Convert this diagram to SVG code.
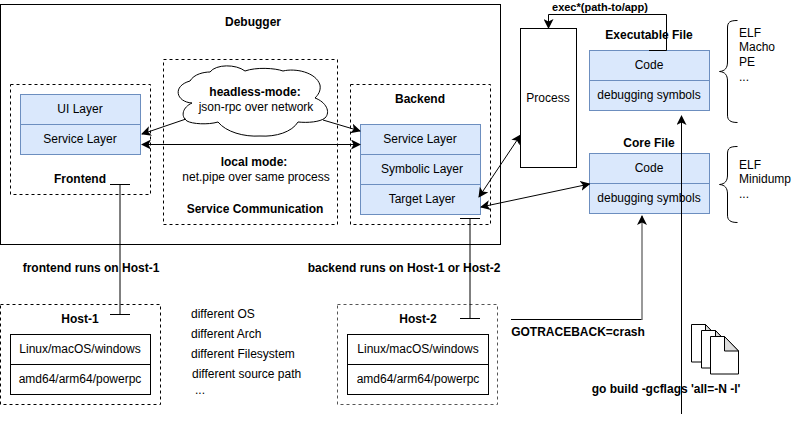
<svg xmlns="http://www.w3.org/2000/svg" width="798" height="424" viewBox="0 0 798 424">
<style>
text{font-family:"Liberation Sans",Arial,sans-serif;font-size:12px;fill:#000;text-anchor:middle}
.b{font-weight:bold}
.l{text-anchor:start}
.blue{fill:#dae8fc;stroke:#6c8ebf;stroke-width:1}
.plain{fill:#fff;stroke:#000;stroke-width:1}
.dash{fill:none;stroke:#000;stroke-width:1;stroke-dasharray:3 3}
.ln{fill:none;stroke:#000;stroke-width:1}
.doc{fill:#fff;stroke:#000;stroke-width:1}
.fold{fill:#ddd;stroke:#000;stroke-width:1}
</style>
<defs>
<marker id="a" viewBox="0 0 10 10" refX="9" refY="5" markerWidth="10" markerHeight="10" orient="auto-start-reverse" markerUnits="userSpaceOnUse"><path d="M0 0L10 5L0 10L2.500 5Z" fill="#000"/></marker>
</defs>
<rect width="798" height="424" fill="#fff"/>
<g id="debugger"><rect class="plain" x="0.500" y="4.500" width="500" height="240"/><text class="b" x="253" y="26">Debugger</text></g>
<g id="frontend"><rect class="dash" x="10.500" y="84.500" width="140" height="110"/>
<rect class="blue" x="20.500" y="94.500" width="120" height="30"/><text x="80" y="113">UI Layer</text>
<rect class="blue" x="20.500" y="124.500" width="120" height="30"/><text x="80" y="143">Service Layer</text>
<text class="b" x="80" y="183">Frontend</text></g>
<g id="service-communication"><rect class="dash" x="163.500" y="59.500" width="174" height="165"/>
<path d="M192 103C176 102 172 86 190 81C194 74 204 72 210 72C216 64 236 64 245 71C256 67 275 68 283 71C295 68 316 72 320 85C321 91 318 95 315 98C326 102 331 112 325 118C320 122 308 123 298 122C292 132 276 137 260 136C244 137 226 132 218 122C208 125 192 124 187 121C180 116 183 107 192 103Z" fill="#fff" stroke="#000"/>
<text class="b" x="255" y="96">headless-mode:</text><text x="256" y="111">json-rpc over network</text>
<text class="b" x="254" y="166">local mode:</text><text x="256" y="181">net.pipe over same process</text>
<text class="b" x="255" y="213">Service Communication</text></g>
<g id="backend"><rect class="dash" x="350.500" y="84.500" width="140" height="140"/>
<text class="b" x="420" y="103">Backend</text>
<rect class="blue" x="360.500" y="124.500" width="120" height="30"/><text x="420" y="143">Service Layer</text>
<rect class="blue" x="360.500" y="154.500" width="120" height="30"/><text x="422" y="173">Symbolic Layer</text>
<rect class="blue" x="360.500" y="184.500" width="120" height="30"/><text x="422" y="203">Target Layer</text></g>
<g id="process"><rect class="plain" x="520.500" y="28.500" width="56" height="139"/><text x="548" y="102">Process</text></g>
<g id="executable-file"><text class="b" x="649" y="39">Executable File</text>
<rect class="blue" x="589.500" y="50.500" width="120" height="30"/><text x="649" y="69">Code</text>
<rect class="blue" x="589.500" y="80.500" width="120" height="30"/><text x="649" y="99">debugging symbols</text></g>
<g id="core-file"><text class="b" x="649" y="147">Core File</text>
<rect class="blue" x="589.500" y="153.500" width="120" height="30"/><text x="649" y="172">Code</text>
<rect class="blue" x="589.500" y="183.500" width="120" height="30"/><text x="649" y="202">debugging symbols</text></g>
<g id="exe-formats"><path class="ln" d="M737.500 20.500C730 20.500 727.500 22 727.500 28V62C727.500 68 725 71 719.500 71.500C725 72 727.500 75 727.500 81V115C727.500 120 730 122.500 737.500 122.500"/>
<text class="l" x="739" y="37">ELF</text><text class="l" x="739" y="51">Macho</text><text class="l" x="739" y="66">PE</text><text class="l" x="739" y="81">...</text></g>
<g id="core-formats"><path class="ln" d="M737.500 146.500C730 146.500 727.500 148 727.500 154V175C727.500 181 725 184 719.500 184.500C725 185 727.500 188 727.500 194V215C727.500 220 730 222.500 737.500 222.500"/>
<text class="l" x="739" y="169">ELF</text><text class="l" x="739" y="183">Minidump</text><text class="l" x="739" y="198">...</text></g>
<g id="host-1"><rect class="dash" x="0.500" y="304.500" width="160" height="100"/><text class="b" x="80" y="323">Host-1</text>
<rect class="plain" x="10.500" y="334.500" width="140" height="30"/><text x="80" y="353">Linux/macOS/windows</text>
<rect class="plain" x="10.500" y="364.500" width="140" height="30"/><text x="80" y="383">amd64/arm64/powerpc</text></g>
<g id="host-2"><rect class="dash" x="337.500" y="304.500" width="160" height="100" style="stroke:#555"/><text class="b" x="418" y="323">Host-2</text>
<rect class="plain" x="347.500" y="334.500" width="141" height="30"/><text x="418" y="353">Linux/macOS/windows</text>
<rect class="plain" x="347.500" y="364.500" width="141" height="30"/><text x="418" y="383">amd64/arm64/powerpc</text></g>
<g id="differences"><text class="l" x="191" y="318">different OS</text><text class="l" x="191" y="338">different Arch</text><text class="l" x="191" y="358">different Filesystem</text><text class="l" x="192" y="378">different source path</text><text class="l" x="195" y="394">...</text></g>
<g id="documents"><path class="doc" d="M691.500 324.500H705.500L714.500 334V362H691.500Z"/><path class="fold" d="M705.500 324.500V334H714.500Z"/>
<path class="doc" d="M701.500 330.500H715.500L724.500 340V368H701.500Z"/><path class="fold" d="M715.500 330.500V340H724.500Z"/>
<path class="doc" d="M710.500 336.500H724.500L738.500 351V374H710.500Z"/><path class="fold" d="M724.500 336.500V351H738.500Z"/></g>
<g id="connectors">
<path class="ln" d="M186 119L142 134" marker-end="url(#a)"/>
<path class="ln" d="M323 120L360 131" marker-end="url(#a)"/>
<path class="ln" d="M142 144.500H360" marker-start="url(#a)" marker-end="url(#a)"/>
<path class="ln" d="M110 184.500H130M120 184.500V314.500M110 314.500H130"/>
<path class="ln" d="M460 218.500H480M470 218.500V318.500M460 318.500H480"/>
<path class="ln" d="M479 197L520.500 135" marker-start="url(#a)" marker-end="url(#a)"/>
<path class="ln" d="M481 207L589.500 184" marker-start="url(#a)" marker-end="url(#a)"/>
<path class="ln" d="M649 50.500H666.500V14.500H548.500V28" marker-end="url(#a)"/>
<path class="ln" d="M511 319.500H642"/>
<path d="M642 320V216" fill="none" stroke="#777" stroke-width="1.500" marker-end="url(#a)"/>
<path class="ln" d="M681.500 414V116" marker-end="url(#a)"/>
</g>
<g id="labels">
<text class="b" x="600" y="11" style="font-size:11px">exec*(path-to/app)</text>
<text class="b" x="91" y="272">frontend runs on Host-1</text>
<text class="b" x="404" y="272">backend runs on Host-1 or Host-2</text>
<text class="b" x="578" y="336">GOTRACEBACK=crash</text>
<text class="b" x="666" y="393">go build -gcflags 'all=-N -l'</text>
</g>
</svg>
